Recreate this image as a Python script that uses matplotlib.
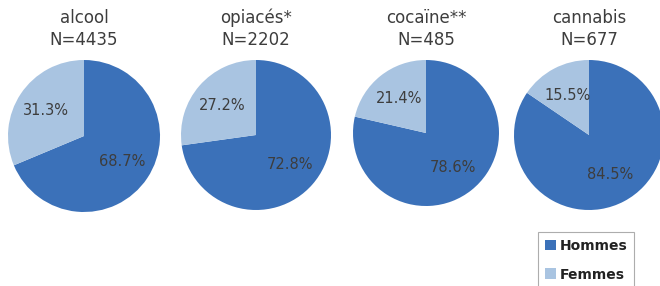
import matplotlib.pyplot as plt
from matplotlib.patches import Patch

substances = ['alcool', 'opiacés*', 'cocaïne**', 'cannabis']
n_total = [4435, 2202, 485, 677]
hommes = [68.7, 72.8, 78.6, 84.5]
femmes = [31.3, 27.2, 21.4, 15.5]

col_h = '#3b71b9'
col_f = '#a9c4e1'
txt = '#3d3d3d'

W, H = 660, 286
# pie centres / radii in pixels
centres = [(84, 136, 76), (256, 135, 75), (426, 133, 73), (589, 135, 75)]

fig = plt.figure(figsize=(W / 100, H / 100), dpi=100)

for i, name in enumerate(substances):
    cx, cy, r = centres[i]
    ax = fig.add_axes([(cx - r) / W, (H - cy - r) / H, 2 * r / W, 2 * r / H])
    wedges, texts, autotexts = ax.pie(
        [hommes[i], femmes[i]], colors=[col_h, col_f], startangle=90,
        counterclock=False, autopct='%.1f%%', pctdistance=0.6,
        wedgeprops=dict(linewidth=0, clip_on=False),
        textprops=dict(fontsize=10.5, color=txt))
    ax.set_xlim(-1, 1)
    ax.set_ylim(-1, 1)
    ax.set_aspect('equal')
    ax.set_axis_off()
    fig.text(cx / W, 1 - 29 / H, f'{name}\nN={n_total[i]}', ha='center',
             va='center', fontsize=12, color=txt, linespacing=1.3)

handles = [Patch(facecolor=col_h, label='Hommes'),
           Patch(facecolor=col_f, label='Femmes')]
leg = fig.legend(handles=handles, loc='upper left',
                 bbox_to_anchor=(538 / W, 1 - 232 / H), frameon=True,
                 fancybox=False, prop=dict(weight='bold', size=10),
                 handlelength=0.8, handleheight=0.8, handletextpad=0.25,
                 labelspacing=1.05, borderpad=0.5, borderaxespad=0)
leg.get_frame().set_edgecolor('#999999')
leg.get_frame().set_linewidth(0.8)
for t in leg.get_texts():
    t.set_color('#222222')

fig.savefig('out.png', dpi=100)
